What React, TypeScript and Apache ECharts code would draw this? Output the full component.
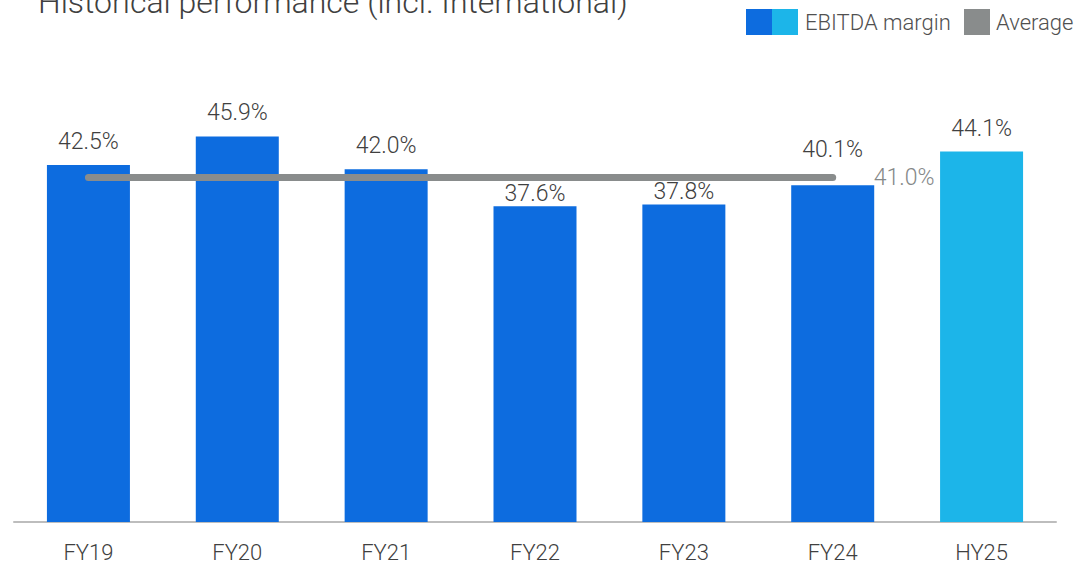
import React, { useEffect, useRef } from "react";
import * as echarts from "echarts";

const categories = ["FY19", "FY20", "FY21", "FY22", "FY23", "FY24", "HY25"];
const ebitdaMargin = [42.5, 45.9, 42.0, 37.6, 37.8, 40.1, 44.1];
const averageValue = 41.0;
const averageSpan = ["FY19", "FY20", "FY21", "FY22", "FY23", "FY24"];
// per-bar label offsets (style only): keep labels clear of the average line
const labelDistance = [12, 12, 12, 1, 1, 24, 12];

const DARK = "#0d6cdf";
const LIGHT = "#1cb5e9";
const GREY = "#898c8c";
const TEXT = "#404040";
const FONT = "Roboto, 'Noto Sans', sans-serif";

export default function App() {
  const ref = useRef<HTMLDivElement>(null);
  useEffect(() => {
    if (!ref.current) return;
    const chart = echarts.init(ref.current, undefined, { renderer: "svg" });
    const avgData = categories.map((c, i) => {
      if (!averageSpan.includes(c)) return "-";
      if (i === averageSpan.length - 1) {
        return {
          value: averageValue,
          label: {
            show: true,
            position: "right",
            distance: 41,
            formatter: averageValue.toFixed(1) + "%",
            color: "#858888",
            fontSize: 23,
            fontWeight: 300,
            fontFamily: FONT,
          },
        };
      }
      return averageValue;
    });
    chart.setOption({
      animation: false,
      textStyle: { fontFamily: FONT },
      title: {
        text: "Historical performance (incl. International)",
        left: 33,
        top: -19,
        textStyle: { fontSize: 32, fontWeight: 300, color: TEXT, fontFamily: FONT },
      },
      graphic: [
        { type: "rect", shape: { x: 746, y: 9, width: 26, height: 26 }, style: { fill: DARK } },
        { type: "rect", shape: { x: 772, y: 9, width: 26, height: 26 }, style: { fill: LIGHT } },
        {
          type: "text",
          x: 805,
          y: 22,
          style: { text: "EBITDA margin", fill: "#505050", fontSize: 22, fontWeight: 300, fontFamily: FONT, verticalAlign: "middle" },
        },
        { type: "rect", shape: { x: 964, y: 9, width: 26, height: 26 }, style: { fill: GREY } },
        {
          type: "text",
          x: 996,
          y: 22,
          style: { text: "Average", fill: "#505050", fontSize: 22, fontWeight: 300, fontFamily: FONT, verticalAlign: "middle" },
        },
      ],
      grid: { left: 14, right: 34, top: 60, bottom: 47 },
      xAxis: {
        type: "category",
        data: categories,
        axisLine: { lineStyle: { color: "#bdbdbd", width: 2 } },
        axisTick: { show: false },
        axisLabel: { color: TEXT, fontSize: 22, fontWeight: 300, margin: 19, fontFamily: FONT },
      },
      yAxis: {
        type: "value",
        min: 0,
        max: 55,
        show: false,
        splitLine: { show: false },
      },
      series: [
        {
          type: "bar",
          barWidth: 83,
          data: ebitdaMargin.map((v, i) => ({
            value: v,
            itemStyle: { color: i === ebitdaMargin.length - 1 ? LIGHT : DARK },
            label: { distance: labelDistance[i] },
          })),
          label: {
            show: true,
            position: "top",
            formatter: (p: any) => Number(p.value).toFixed(1) + "%",
            color: TEXT,
            fontSize: 23,
            fontWeight: 300,
            fontFamily: FONT,
          },
          z: 1,
        },
        {
          type: "line",
          data: avgData,
          symbol: "circle",
          symbolSize: 0,
          showSymbol: true,
          lineStyle: { color: GREY, width: 7, cap: "round" },
          itemStyle: { color: GREY },
          z: 3,
        },
      ],
    });
    return () => chart.dispose();
  }, []);
  return <div ref={ref} style={{ width: 1090, height: 569, position: "absolute", left: 0, top: 0 }} />;
}
